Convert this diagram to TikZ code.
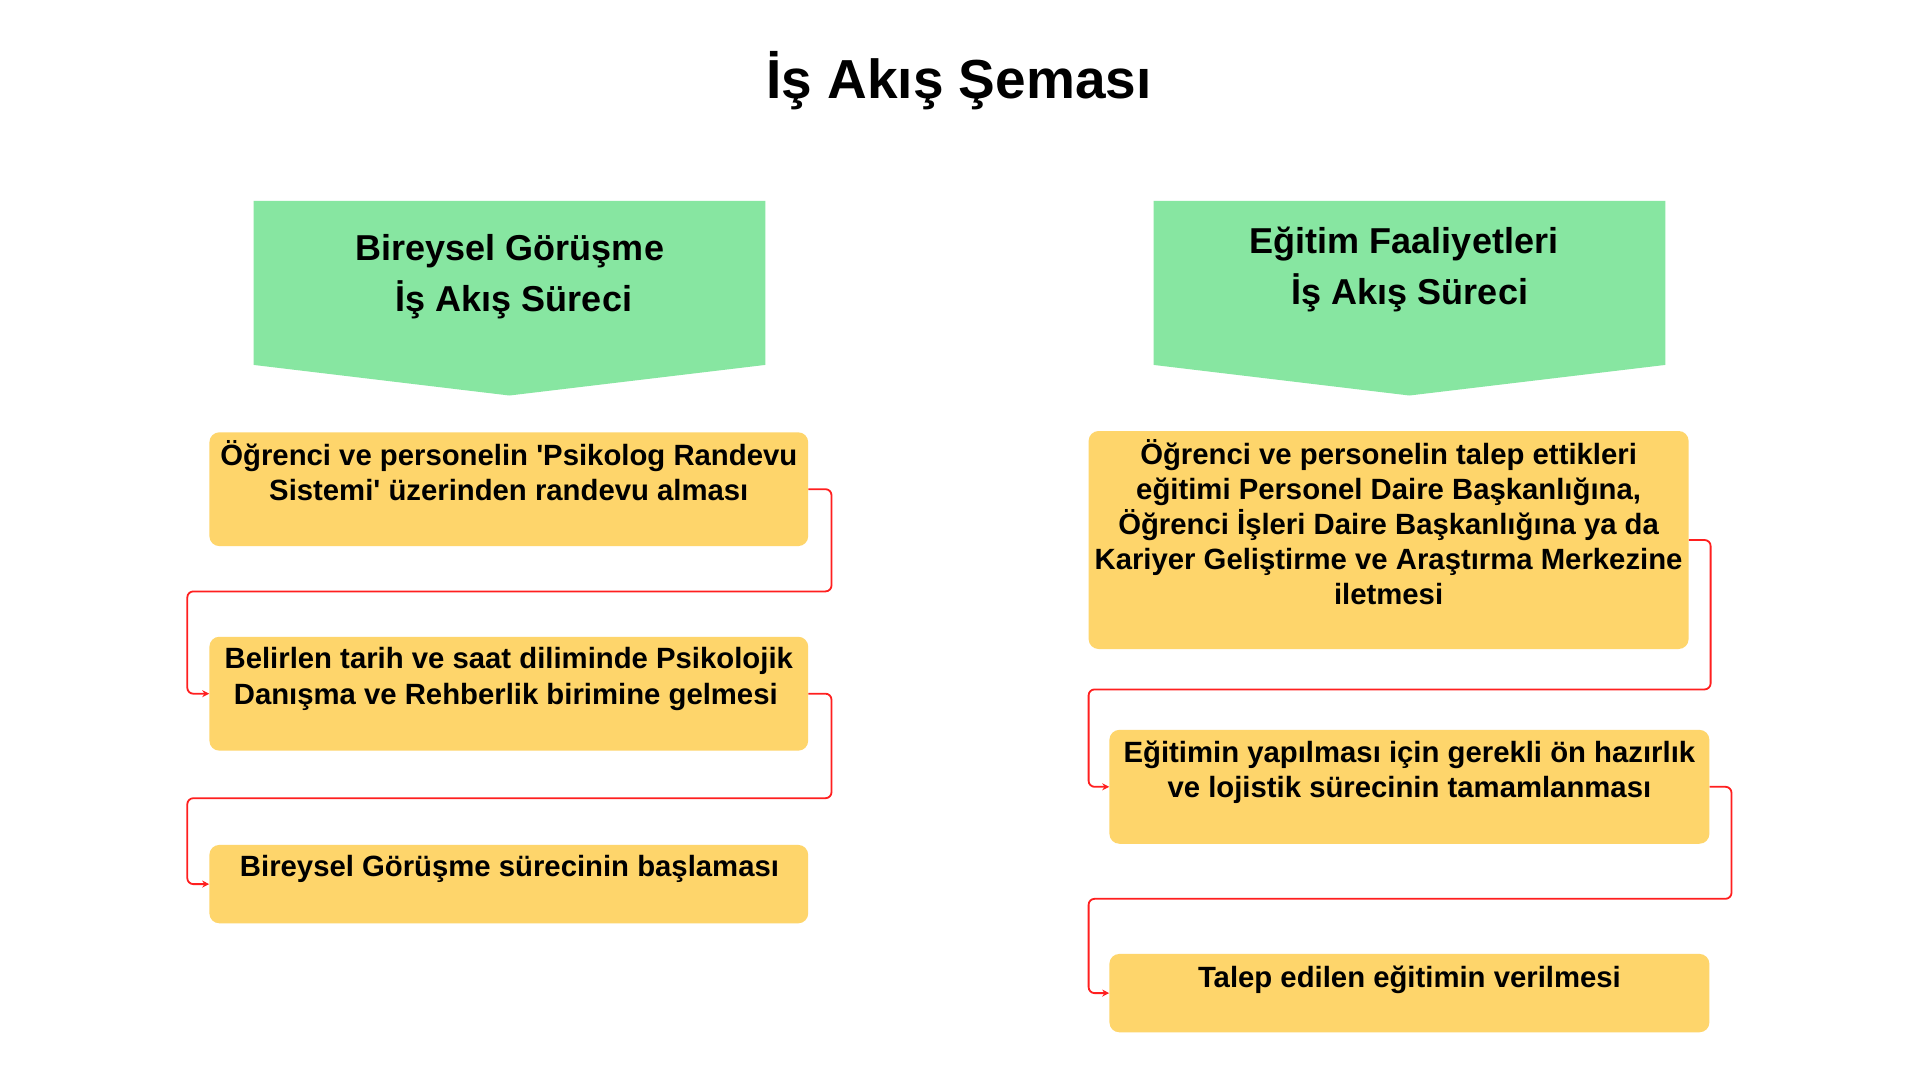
\documentclass[tikz,border=0pt]{standalone}
\usepackage{fontspec}
\setmainfont{Liberation Sans}
\usetikzlibrary{arrows.meta}
\definecolor{hgreen}{HTML}{87E6A1}
\definecolor{borange}{HTML}{FED56B}
\definecolor{lred}{HTML}{FF1F1F}
\tikzset{
  obox/.style={fill=borange, rounded corners=10pt, inner sep=0pt, draw=none},
  btext/.style={font=\bfseries\fontsize{29.3}{35.2}\selectfont, align=center, inner sep=0pt, text=black},
  htext/.style={font=\bfseries\fontsize{36}{51}\selectfont, align=center, inner sep=0pt, text=black},
  conn/.style={draw=lred, line width=1.8pt, rounded corners=6pt, -{Stealth[length=7pt,width=7pt]}},
}
\begin{document}
\begin{tikzpicture}[x=1pt,y=-1pt]
\useasboundingbox[fill=white] (0,0) rectangle (1920,1080);
% title
\node[font=\bfseries\fontsize{55}{66}\selectfont, anchor=base, inner sep=0pt] (title) at (959,98) {İş Akış Şeması};
% headers
\fill[hgreen] (253.5,200.8) -- (765.3,200.8) -- (765.3,364.9) -- (509.4,395.5) -- (253.5,364.9) -- cycle;
\fill[hgreen] (1153.5,200.8) -- (1665.4,200.8) -- (1665.4,364.9) -- (1409.4,395.5) -- (1153.5,364.9) -- cycle;
\node[htext, anchor=base] (h1) at (510,311) {Bireysel Görüşme\\\hspace*{8pt}İş Akış Süreci};
\node[htext, anchor=base] (h2) at (1407,304.9) {Eğitim Faaliyetleri\hspace*{6pt}\\\hspace*{6pt}İş Akış Süreci};
% left boxes
\node[obox, minimum width=598.8pt, minimum height=113.8pt] (l1) at (508.8,489.2) {};
\node[obox, minimum width=598.8pt, minimum height=113.9pt] (l2) at (508.8,693.7) {};
\node[obox, minimum width=598.8pt, minimum height=78.4pt] (l3) at (508.8,884.1) {};
\node[btext, anchor=base] (lt1) at (508.8,500.9) {Öğrenci ve personelin \textquotesingle Psikolog Randevu\\Sistemi\textquotesingle\ üzerinden randevu alması};
\node[btext, anchor=base] (lt2) at (508.8,704.1) {Belirlen tarih ve saat diliminde Psikolojik\\Danışma ve Rehberlik birimine gelmesi\hspace*{6pt}};
\node[btext, anchor=base] (lt3) at (509.5,876.8) {Bireysel Görüşme sürecinin başlaması};
% right boxes
\node[obox, minimum width=600pt, minimum height=218pt] (r1) at (1388.6,540) {};
\node[obox, minimum width=600pt, minimum height=113.9pt] (r2) at (1409.4,786.8) {};
\node[obox, minimum width=600pt, minimum height=78.4pt] (r3) at (1409.4,993.1) {};
\node[btext, anchor=base] (rt1) at (1388.6,604.9) {Öğrenci ve personelin talep ettikleri\\eğitimi Personel Daire Başkanlığına,\\Öğrenci İşleri Daire Başkanlığına ya da\\Kariyer Geliştirme ve Araştırma Merkezine\\iletmesi};
\node[btext, anchor=base] (rt2) at (1409.4,797.2) {Eğitimin yapılması için gerekli ön hazırlık\\ve lojistik sürecinin tamamlanması};
\node[btext, anchor=base] (rt3) at (1409.4,987) {Talep edilen eğitimin verilmesi};
% connector waypoints
\coordinate (c1r) at (831.5,591.4);
\coordinate (c1l) at (187.3,591.4);
\coordinate (c2r) at (831.5,798.2);
\coordinate (c2l) at (187.3,798.2);
\coordinate (c3r) at (1710.6,689.4);
\coordinate (c3l) at (1088.6,689.4);
\coordinate (c4r) at (1731.5,898.8);
\coordinate (c4l) at (1088.6,898.8);
% connectors
\draw[conn] (l1.east) -| (c1r) -- (c1l) |- (l2.west);
\draw[conn] (l2.east) -| (c2r) -- (c2l) |- (l3.west);
\draw[conn] (r1.east) -| (c3r) -- (c3l) |- (r2.west);
\draw[conn] (r2.east) -| (c4r) -- (c4l) |- (r3.west);
\end{tikzpicture}
\end{document}
